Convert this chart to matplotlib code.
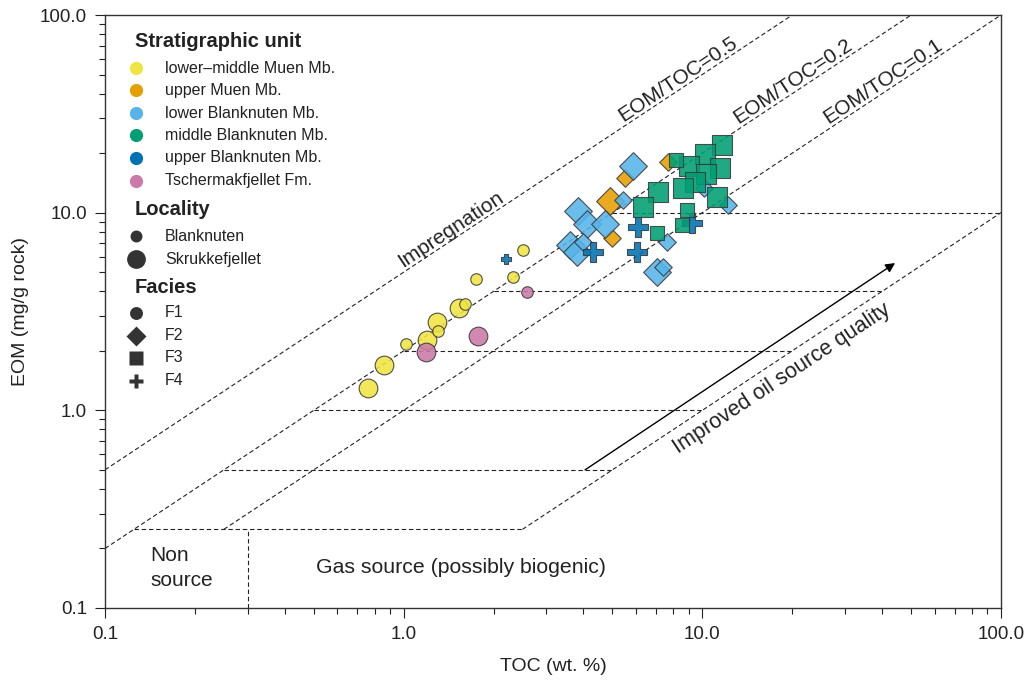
import numpy as np
import matplotlib
matplotlib.use("Agg")
import matplotlib.pyplot as plt

plt.rcParams['font.family'] = ['Liberation Sans', 'DejaVu Sans']

# ---- data (TOC wt.%, EOM mg/g rock) ----
toc = [2.5, 1.75, 2.33, 1.53, 1.61, 1.29, 1.30, 1.02, 1.20, 0.86, 0.76,   # lower-middle Muen
       2.58, 1.185, 1.77,                                                # Tschermakfjellet
       5.51, 4.89, 4.98, 7.69,                                           # upper Muen
       5.86, 3.84, 4.10, 4.72, 5.41, 3.60, 3.80, 3.98, 7.03, 7.40, 7.60, 10.1, 12.2,  # lower Blanknuten
       11.6, 10.2, 9.04, 11.45, 10.3, 9.45, 8.63, 11.2, 7.12, 6.35,      # middle Blanknuten
       8.16, 8.86, 8.52, 7.03,
       2.2, 4.29, 6.04, 6.11, 9.21]                                      # upper Blanknuten
eom = [6.5, 4.6, 4.7, 3.3, 3.45, 2.79, 2.52, 2.16, 2.27, 1.70, 1.30,
       3.95, 1.98, 2.38,
       14.9, 11.5, 7.41, 18.1,
       17.3, 10.2, 8.76, 8.76, 11.6, 6.86, 6.34, 7.10, 5.02, 5.33, 7.13, 13.3, 10.9,
       22.0, 19.9, 17.2, 16.8, 15.7, 14.3, 13.3, 12.0, 12.75, 10.7,
       18.5, 10.3, 8.66, 7.86,
       5.83, 6.34, 6.32, 8.49, 8.83]
unit = ['LM'] * 11 + ['TF'] * 3 + ['UM'] * 4 + ['LB'] * 13 + ['MB'] * 14 + ['UB'] * 5
facies = ['F1'] * 14 + ['F2'] * 17 + ['F3'] * 14 + ['F4'] * 5
locality = ['B', 'B', 'B', 'S', 'B', 'S', 'B', 'B', 'S', 'S', 'S',
            'B', 'S', 'S',
            'B', 'S', 'B', 'B',
            'S', 'S', 'S', 'S', 'B', 'S', 'S', 'B', 'S', 'B', 'B', 'B', 'B',
            'S', 'S', 'S', 'S', 'S', 'S', 'S', 'S', 'S', 'S',
            'B', 'B', 'B', 'B',
            'B', 'S', 'S', 'S', 'S']

unit_names = ['lower\u2013middle Muen Mb.', 'upper Muen Mb.', 'lower Blanknuten Mb.',
              'middle Blanknuten Mb.', 'upper Blanknuten Mb.', 'Tschermakfjellet Fm.']
unit_colors = ['#F0E442', '#E69F00', '#56B4E9', '#009E73', '#0072B2', '#CC79A7']
locality_names = ['Blanknuten', 'Skrukkefjellet']
facies_names = ['F1', 'F2', 'F3', 'F4']
facies_markers = {'F1': 'o', 'F2': 'D', 'F3': 's', 'F4': 'P'}
# marker area (pt^2) per facies and locality
marker_size = {('F1', 'B'): 69, ('F1', 'S'): 181,
               ('F2', 'B'): 80, ('F2', 'S'): 200,
               ('F3', 'B'): 95, ('F3', 'S'): 220,
               ('F4', 'B'): 60, ('F4', 'S'): 195}

quality_levels = [0.25, 0.5, 1, 2, 4, 10]   # EOM steps of the oil-quality ladder

fig = plt.figure(figsize=(10.24, 6.81), dpi=100)
ax = fig.add_axes([105 / 1024, 1 - 608 / 681, 896 / 1024, 593 / 681])
ax.set_xscale('log')
ax.set_yscale('log')
ax.set_xlim(0.1, 100)
ax.set_ylim(0.1, 100)

ls = dict(color='#222222', lw=0.8, ls=(0, (4, 2.5)), zorder=1)
# EOM/TOC lines (EOM mg/g = ratio * TOC * 10)
ax.plot([0.1, 20], [0.5, 100], **ls)
ax.plot([0.1, 50], [0.2, 100], **ls)
ax.plot([0.25, 100], [0.25, 100], **ls)
ax.plot([2.5, 100], [0.25, 10], **ls)
for lev in quality_levels:
    ax.plot([lev / 2, min(lev * 10, 100)], [lev, lev], **ls)
ax.plot([0.3, 0.3], [0.1, 0.25], **ls)

ax.annotate('', xy=(44.2, 5.56), xytext=(4.05, 0.5),
            arrowprops=dict(arrowstyle='-|>', color='black', lw=1.0,
                            mutation_scale=14, shrinkA=0, shrinkB=0))

# rotation of a slope-1 line on this log-log axes
p1 = ax.transData.transform((1, 1))
p2 = ax.transData.transform((10, 10))
ang = np.degrees(np.arctan2(p2[1] - p1[1], p2[0] - p1[0]))

txt = dict(fontsize=15, color='#222222', rotation=ang, rotation_mode='anchor',
           ha='center', va='bottom')
ax.text(8.6, 43.0, 'EOM/TOC=0.5', **txt)
ax.text(21, 42, 'EOM/TOC=0.2', **txt)
ax.text(42, 42, 'EOM/TOC=0.1', **txt)
ax.text(1.5, 7.5, 'Impregnation', **txt)
ax.text(18.5, 1.44, 'Improved oil source quality', fontsize=15.5, color='#222222',
        rotation=ang, rotation_mode='anchor', ha='center', va='center')
ax.text(0.142, 0.159, 'Non\nsource', fontsize=15, color='#222222',
        ha='left', va='center', linespacing=1.4)
ax.text(0.508, 0.161, 'Gas source (possibly biogenic)', fontsize=15.3,
        color='#222222', ha='left', va='center')

# data points
toc_a = np.array(toc)
eom_a = np.array(eom)
unit_a = np.array(unit)
fac_a = np.array(facies)
loc_a = np.array(locality)
for code, col in zip(['LM', 'TF', 'UM', 'LB', 'UB', 'MB'],
                     ['#F0E442', '#CC79A7', '#E69F00', '#56B4E9', '#0072B2', '#009E73']):
    for f in facies_names:
        for l in ['S', 'B']:
            m = (unit_a == code) & (fac_a == f) & (loc_a == l)
            if m.sum() == 0:
                continue
            ax.scatter(toc_a[m], eom_a[m], s=marker_size[(f, l)],
                       marker=facies_markers[f], c=col, alpha=0.88,
                       edgecolors='#3a3a3a', linewidths=0.8, zorder=3)

# ---- manual legend (axes fraction) ----
tr = ax.transAxes
mx, tx, hx = 0.0346, 0.067, 0.0335
ax.text(hx, 0.9545, 'Stratigraphic unit', transform=tr, fontsize=14.5,
        fontweight='bold', color='#222222', va='center')
rows = [0.9106, 0.8727, 0.8347, 0.7968, 0.7589, 0.7201]
for y, name, col in zip(rows, unit_names, unit_colors):
    ax.plot(mx, y, 'o', ms=9.5, color=col, mec='none', transform=tr)
    ax.text(tx, y, name, transform=tr, fontsize=11.5, color='#222222', va='center')

ax.text(hx, 0.6712, 'Locality', transform=tr, fontsize=14.5,
        fontweight='bold', color='#222222', va='center')
for y, name, ms in zip([0.6273, 0.5885], locality_names, [8.6, 13.5]):
    ax.plot(mx, y, 'o', ms=ms, color='#333333', mec='none', transform=tr)
    ax.text(tx, y, name, transform=tr, fontsize=11.5, color='#222222', va='center')

ax.text(hx, 0.5413, 'Facies', transform=tr, fontsize=14.5,
        fontweight='bold', color='#222222', va='center')
for y, name, ms in zip([0.4975, 0.4587, 0.4216, 0.3828], facies_names,
                       [9.3, 10.2, 10, 10.5]):
    ax.plot(mx, y, facies_markers[name], ms=ms, color='#333333', mec='none',
            transform=tr)
    ax.text(tx, y, name, transform=tr, fontsize=11.5, color='#222222', va='center')

# axes styling
ax.set_xticks([0.1, 1, 10, 100], ['0.1', '1.0', '10.0', '100.0'])
ax.set_yticks([0.1, 1, 10, 100], ['0.1', '1.0', '10.0', '100.0'])
ax.tick_params(which='major', length=7, width=0.8, labelsize=13.5, colors='#222222', pad=6)
ax.tick_params(which='minor', length=4, width=0.8, colors='#222222')
for sp in ax.spines.values():
    sp.set_color('#333333')
    sp.set_linewidth(1.0)
ax.set_xlabel('TOC (wt. %)', fontsize=14, color='#222222', labelpad=11)
ax.set_ylabel('EOM (mg/g rock)', fontsize=14, color='#222222', labelpad=8)

fig.savefig('out.png', dpi=100)
